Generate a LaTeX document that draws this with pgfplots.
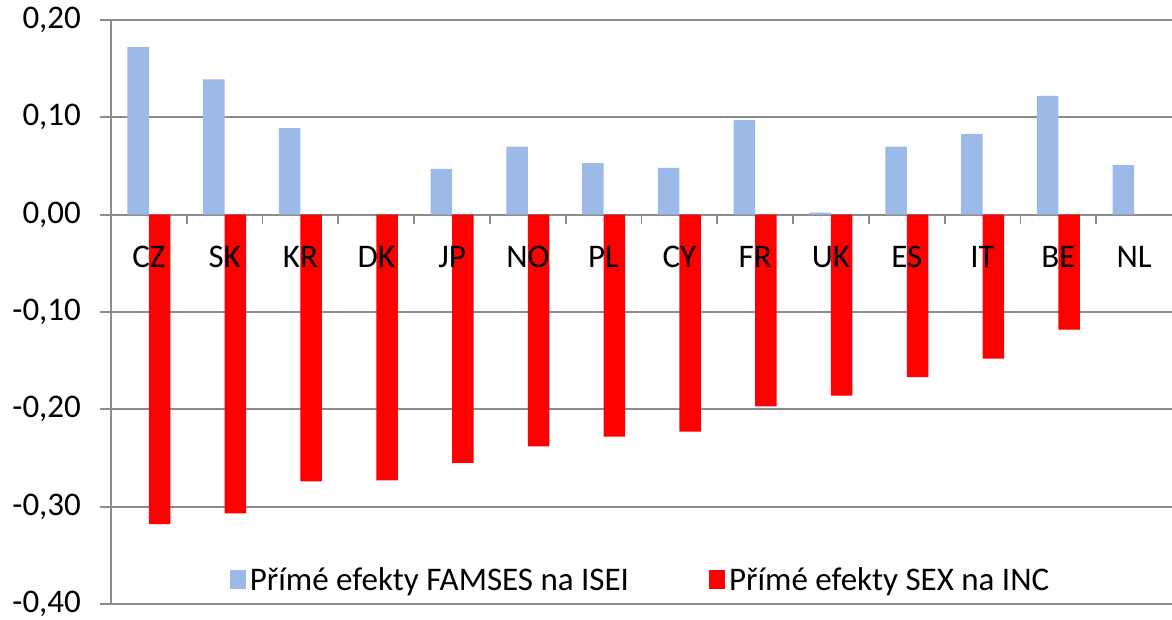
\documentclass[border=0pt]{standalone}
\usepackage{fontspec}
\setmainfont{Carlito}
\usepackage{pgfplots}
\pgfplotsset{compat=1.18}
\definecolor{gridgray}{RGB}{140,140,140}
\definecolor{barblue}{RGB}{155,186,232}
\definecolor{barred}{RGB}{255,0,0}
\newcommand{\chartfont}{\fontsize{16.5}{19.8}\selectfont}
\pgfplotsset{common/.style={
  scale only axis,
  width=530.5pt, height=292pt,
  xmin=-0.5, xmax=13.5,
  ymin=-0.4, ymax=0.2,
  axis x line*=middle,
  axis y line*=left,
}}
\begin{document}
\begin{tikzpicture}
\begin{axis}[
  common,
  axis line style={draw=gridgray, line width=0.9pt},
  ytick={-0.4,-0.3,-0.2,-0.1,0,0.1,0.2},
  ymajorgrids,
  major grid style={draw=gridgray, line width=0.9pt},
  y tick style={draw=gridgray, line width=0.9pt},
  ytick align=outside,
  major tick length=5.5pt,
  yticklabel style={font=\chartfont, xshift=-6pt, /pgf/number format/.cd, fixed, fixed zerofill, precision=2, use comma, assume math mode=true},
  xtick={0,1,2,3,4,5,6,7,8,9,10,11,12,13},
  xticklabels={},
  major x tick style={draw=none},
  minor xtick={0.5,1.5,2.5,3.5,4.5,5.5,6.5,7.5,8.5,9.5,10.5,11.5,12.5},
  minor x tick style={draw=gridgray, line width=0.9pt},
  xtick align=outside,
  minor tick length=4.5pt,
  ybar=0pt,
  bar width=10.75pt,
  legend style={draw=none, fill=none, font=\chartfont, at={(0.5,0.041)}, anchor=center, legend columns=2, /tikz/every even column/.append style={column sep=38pt}},
  legend image code/.code={\fill[#1] (0pt,-4.5pt) rectangle (8pt,5pt);},
]
\addplot[fill=barblue, draw=none] coordinates {
(0,0.172) (1,0.139) (2,0.089) (3,0) (4,0.047) (5,0.070) (6,0.053) (7,0.048) (8,0.097) (9,0.002) (10,0.070) (11,0.083) (12,0.122) (13,0.051)};
\addplot[fill=barred, draw=none] coordinates {
(0,-0.318) (1,-0.307) (2,-0.274) (3,-0.273) (4,-0.255) (5,-0.238) (6,-0.228) (7,-0.223) (8,-0.197) (9,-0.186) (10,-0.167) (11,-0.148) (12,-0.118) (13,0)};
\legend{Přímé efekty FAMSES na ISEI, Přímé efekty SEX na INC}
\coordinate (ll) at (rel axis cs:0,0);
\coordinate (ur) at (rel axis cs:1,1);
\end{axis}
\begin{axis}[
  common,
  axis line style={draw=none},
  ytick=\empty,
  xtick={0,1,2,3,4,5,6,7,8,9,10,11,12,13},
  xticklabels={CZ,SK,KR,DK,JP,NO,PL,CY,FR,UK,ES,IT,BE,NL},
  major x tick style={draw=none},
  xticklabel style={font=\chartfont, anchor=base, yshift=-26.5pt},
]
\end{axis}
\pgfresetboundingbox
\path ([xshift=-55.5pt,yshift=-8pt]ll) rectangle ([yshift=10pt]ur);
\end{tikzpicture}
\end{document}
